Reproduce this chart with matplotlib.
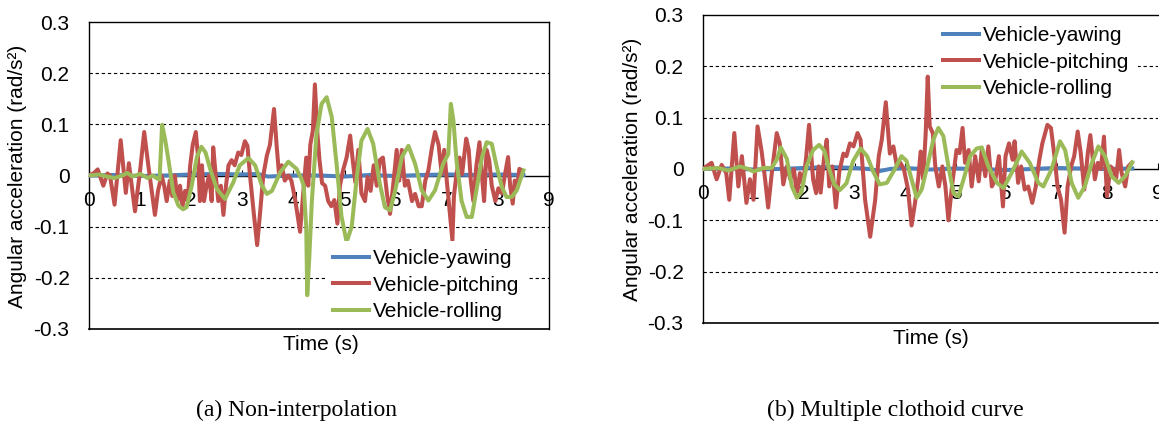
import matplotlib
matplotlib.use("Agg")
import matplotlib.pyplot as plt
from matplotlib.lines import Line2D

plt.rcParams['font.family'] = ['Liberation Sans', 'DejaVu Sans']
plt.rcParams['axes.unicode_minus'] = False

# ---------------- data ----------------
series_names = ["Vehicle-yawing", "Vehicle-pitching", "Vehicle-rolling"]
x_ticks = [0, 1, 2, 3, 4, 5, 6, 7, 8, 9]
y_ticks = [-0.3, -0.2, -0.1, 0, 0.1, 0.2, 0.3]
y_tick_labels = ["-0.3", "-0.2", "-0.1", "0", "0.1", "0.2", "0.3"]
captions = ["(a) Non-interpolation", "(b) Multiple clothoid curve"]

# (a) Non-interpolation
a_yaw_t = [0, 0.5, 1.0, 1.5, 2.0, 2.5, 3.0, 3.3, 3.5, 4.0, 4.5, 5.0, 5.5, 6.0, 6.5, 7.0, 7.5, 8.0, 8.5]
a_yaw_v = [0, 0.001, -0.001, 0.0, 0.002, 0.003, 0.002, 0.003, -0.002, 0.0, 0.0, -0.002, 0.001, -0.001, 0.001, 0.002, 0.001, 0.002, 0.001]

a_pitch_t = [0, 0.10, 0.17, 0.28, 0.36, 0.41, 0.50, 0.62, 0.72, 0.78,
             0.90, 1.00, 1.08, 1.16, 1.29, 1.35, 1.42, 1.47, 1.52, 1.58,
             1.63, 1.68, 1.73, 1.78, 1.83, 1.88, 1.93, 1.98, 2.03, 2.09,
             2.13, 2.17, 2.21, 2.25, 2.30, 2.35, 2.40, 2.43, 2.48, 2.53,
             2.58, 2.63, 2.68, 2.73, 2.79, 2.85, 2.92, 2.98, 3.05, 3.10,
             3.15, 3.22, 3.29, 3.35, 3.41, 3.48, 3.54, 3.62, 3.67, 3.72,
             3.77, 3.83, 3.90, 3.96, 4.03, 4.13, 4.19, 4.25, 4.29, 4.33,
             4.38, 4.42, 4.47, 4.51, 4.56, 4.62, 4.68, 4.74, 4.80, 4.86,
             4.91, 4.97, 5.04, 5.11, 5.16, 5.21, 5.27, 5.33, 5.40, 5.45,
             5.51, 5.57, 5.63, 5.69, 5.75, 5.83, 5.89, 5.95, 6.02, 6.07,
             6.12, 6.18, 6.24, 6.32, 6.38, 6.45, 6.51, 6.58, 6.64, 6.71,
             6.77, 6.84, 6.90, 6.95, 7.00, 7.06, 7.11, 7.14, 7.19, 7.25,
             7.30, 7.38, 7.43, 7.47, 7.52, 7.58, 7.64, 7.69, 7.73, 7.78,
             7.83, 7.88, 7.95, 8.01, 8.08, 8.14, 8.20, 8.24, 8.29, 8.33,
             8.38, 8.42, 8.47]
a_pitch_v = [0, 0.005, 0.012, -0.02, 0.004, 0.0, -0.057, 0.069, -0.034, 0.024,
             -0.070, 0.01, 0.085, 0.02, -0.077, -0.03, 0.0, -0.02, -0.05, -0.01,
             -0.04, 0.0, -0.05, -0.02, -0.06, -0.03, -0.05, 0.02, 0.06, 0.085,
             0.04, -0.05, 0.02, -0.05, -0.02, 0.0, -0.05, 0.055, 0.0, -0.05,
             -0.02, -0.077, -0.02, 0.02, 0.03, 0.02, 0.045, 0.04, 0.067, 0.058,
             0.0, -0.07, -0.136, -0.07, 0.0, 0.039, 0.06, 0.13, 0.06, 0.0,
             0.02, -0.01, 0.0, -0.01, -0.045, -0.11, -0.036, 0.035, -0.02, 0.06,
             0.088, 0.178, 0.08, 0.03, -0.015, -0.02, -0.05, -0.06, -0.048, -0.094,
             -0.02, 0.01, 0.035, 0.078, 0.03, -0.013, 0.05, -0.035, -0.05, -0.003,
             -0.03, 0.02, -0.02, 0.03, 0.035, -0.036, -0.075, -0.02, 0.05, -0.01,
             0.05, -0.02, -0.01, -0.05, -0.036, -0.06, -0.06, -0.01, 0.01, 0.055,
             0.085, 0.06, 0.003, 0.05, -0.01, -0.075, -0.127, -0.04, 0.003, 0.035,
             0.003, 0.072, 0.05, -0.01, -0.05, 0.02, 0.065, -0.003, -0.05, 0.05,
             0.03, -0.02, -0.05, -0.025, -0.035, 0.003, 0.036, -0.02, -0.055, -0.01,
             -0.022, 0.013, 0.01]

a_roll_t = [0, 0.2, 0.35, 0.5, 0.65, 0.75, 0.85, 1.0, 1.15, 1.25,
            1.32, 1.38, 1.43, 1.49, 1.55, 1.65, 1.75, 1.84, 1.91, 2.01,
            2.11, 2.20, 2.28, 2.37, 2.50, 2.66, 2.82, 2.95, 3.12, 3.25,
            3.38, 3.48, 3.58, 3.74, 3.90, 4.06, 4.15, 4.20, 4.25, 4.27,
            4.31, 4.36, 4.45, 4.55, 4.65, 4.75, 4.85, 4.94, 5.04, 5.14,
            5.24, 5.33, 5.45, 5.56, 5.69, 5.79, 5.89, 5.99, 6.12, 6.25,
            6.38, 6.51, 6.64, 6.77, 6.93, 7.03, 7.08, 7.13, 7.19, 7.29,
            7.39, 7.49, 7.59, 7.69, 7.78, 7.88, 7.98, 8.08, 8.17, 8.27,
            8.37, 8.50]
a_roll_v = [0, 0.002, -0.002, -0.005, 0.0, 0.005, -0.002, 0.003, -0.005, 0.0,
            -0.005, -0.008, 0.099, 0.07, 0.033, -0.033, -0.059, -0.066, -0.062, -0.02,
            0.036, 0.056, 0.045, 0.013, -0.026, -0.046, -0.014, 0.02, 0.034, 0.02,
            -0.019, -0.036, -0.03, 0.006, 0.027, 0.013, -0.005, -0.02, -0.1, -0.234,
            -0.16, -0.05, 0.08, 0.14, 0.153, 0.114, 0.016, -0.08, -0.13, -0.10,
            -0.003, 0.068, 0.091, 0.062, -0.016, -0.062, -0.068, -0.03, 0.036, 0.058,
            0.023, -0.029, -0.049, -0.029, 0.023, 0.042, 0.14, 0.107, 0.029, -0.05,
            -0.081, -0.081, -0.023, 0.036, 0.065, 0.062, 0.016, -0.023, -0.042, -0.042,
            -0.029, 0.01]

# (b) Multiple clothoid curve
b_yaw_t = [0, 0.5, 1.0, 1.5, 2.0, 2.5, 3.0, 3.3, 3.5, 3.7, 4.0, 4.5, 5.0, 5.5, 6.0, 6.5, 7.0, 7.5, 8.0, 8.5]
b_yaw_v = [0, 0.001, -0.001, 0.0, 0.002, 0.004, 0.002, 0.0, -0.004, 0.0, 0.002, -0.001, 0.001, 0.0, -0.002, 0.0, 0.002, 0.001, 0.0, 0.001]

b_pitch_t = [0, 0.08, 0.17, 0.27, 0.37, 0.46, 0.52, 0.62, 0.70, 0.77,
             0.86, 0.93, 1.00, 1.08, 1.16, 1.23, 1.29, 1.36, 1.46, 1.52,
             1.59, 1.66, 1.73, 1.80, 1.86, 1.92, 1.98, 2.04, 2.10, 2.18,
             2.24, 2.29, 2.33, 2.40, 2.45, 2.50, 2.56, 2.63, 2.70, 2.78,
             2.84, 2.91, 2.98, 3.06, 3.12, 3.21, 3.31, 3.41, 3.48, 3.54,
             3.62, 3.70, 3.77, 3.84, 3.91, 3.98, 4.06, 4.13, 4.20, 4.26,
             4.31, 4.36, 4.41, 4.45, 4.49, 4.55, 4.60, 4.67, 4.74, 4.80,
             4.86, 4.93, 5.02, 5.08, 5.14, 5.19, 5.26, 5.32, 5.39, 5.46,
             5.52, 5.59, 5.65, 5.72, 5.79, 5.86, 5.94, 5.99, 6.06, 6.13,
             6.17, 6.24, 6.30, 6.37, 6.44, 6.52, 6.59, 6.66, 6.72, 6.82,
             6.89, 6.96, 7.02, 7.09, 7.16, 7.22, 7.29, 7.35, 7.42, 7.48,
             7.55, 7.62, 7.67, 7.72, 7.76, 7.82, 7.88, 7.94, 8.00, 8.07,
             8.13, 8.18, 8.24, 8.29, 8.36, 8.42, 8.49]
b_pitch_v = [0, 0.006, 0.012, -0.02, 0.008, -0.008, -0.06, 0.07, -0.034, 0.025,
             -0.066, -0.02, -0.06, 0.083, 0.035, -0.02, -0.075, -0.01, 0.07, 0.05,
             -0.03, 0.005, -0.02, 0.0, -0.05, -0.008, -0.03, 0.02, 0.086, -0.02,
             -0.047, 0.005, -0.046, 0.025, 0.057, -0.034, 0.005, -0.075, -0.005, 0.03,
             0.025, 0.05, 0.044, 0.07, 0.057, -0.06, -0.132, -0.06, 0.025, 0.057,
             0.13, 0.03, 0.044, 0.005, 0.012, -0.001, -0.04, -0.11, -0.065, -0.02,
             0.034, -0.02, 0.07, 0.18, 0.083, 0.07, 0.005, -0.034, 0.005, -0.034,
             -0.1, -0.034, 0.037, 0.031, 0.08, 0.012, 0.037, -0.034, 0.025, -0.024,
             0.037, -0.014, 0.044, -0.034, -0.02, 0.025, -0.073, 0.025, 0.05, 0.018,
             0.054, -0.027, 0.005, -0.04, -0.034, -0.066, -0.034, 0.018, 0.05, 0.086,
             0.08, 0.025, -0.034, -0.06, -0.124, -0.034, 0.005, 0.025, 0.073, 0.031,
             -0.04, 0.031, 0.066, 0.018, -0.02, 0.012, 0.0, 0.063, -0.053, 0.005,
             -0.001, -0.02, 0.037, -0.008, -0.034, 0.005, 0.012]

b_roll_t = [0, 0.3, 0.5, 0.73, 0.9, 1.0, 1.2, 1.36, 1.46, 1.54,
            1.66, 1.76, 1.86, 1.95, 2.05, 2.18, 2.30, 2.40, 2.50, 2.60,
            2.71, 2.84, 2.97, 3.12, 3.25, 3.37, 3.50, 3.64, 3.80, 3.93,
            4.03, 4.13, 4.23, 4.33, 4.43, 4.56, 4.66, 4.76, 4.86, 4.96,
            5.06, 5.16, 5.29, 5.42, 5.52, 5.65, 5.82, 5.95, 6.11, 6.31,
            6.47, 6.64, 6.74, 6.90, 7.07, 7.17, 7.30, 7.43, 7.56, 7.70,
            7.83, 7.96, 8.09, 8.23, 8.36, 8.50]
b_roll_v = [0, 0.002, -0.003, 0.005, 0.0, -0.005, 0.002, 0.002, 0.018, 0.042,
            0.02, -0.034, -0.056, -0.045, 0.005, 0.037, 0.047, 0.036, 0.0, -0.03,
            -0.041, -0.028, 0.015, 0.04, 0.025, -0.005, -0.03, -0.027, 0.0, 0.025,
            0.016, -0.02, -0.056, -0.04, 0.0, 0.057, 0.08, 0.064, 0.005, -0.047,
            -0.053, -0.02, 0.025, 0.04, 0.042, 0.005, -0.027, -0.037, -0.008, 0.034,
            0.012, -0.027, -0.034, -0.001, 0.054, 0.037, -0.027, -0.056, -0.034, 0.012,
            0.044, 0.025, -0.014, -0.027, -0.014, 0.013]

# ---------------- styling ----------------
colors = ["#4F81BD", "#C0504D", "#9BBB59"]
W, H = 1159, 428
LW = 2.9
FS = 15

fig = plt.figure(figsize=(W / 100, H / 100), dpi=100)
fig.patch.set_facecolor("white")

panels = [
    dict(rect=(89, 22, 549, 329), yaw=(a_yaw_t, a_yaw_v), pitch=(a_pitch_t, a_pitch_v),
         roll=(a_roll_t, a_roll_v), leg=(325, 241), ylab=(18, 176), xlab=(321, 345),
         cap=(296, 410), right_spine=True),
    dict(rect=(703, 15, 1157.5, 323), yaw=(b_yaw_t, b_yaw_v), pitch=(b_pitch_t, b_pitch_v),
         roll=(b_roll_t, b_roll_v), leg=(935, 18), ylab=(633, 169), xlab=(931, 338),
         cap=(895, 410), right_spine=False),
]

for i, p in enumerate(panels):
    x0, y0, x1, y1 = p["rect"]
    ax = fig.add_axes([x0 / W, 1 - y1 / H, (x1 - x0) / W, (y1 - y0) / H])
    ax.set_xlim(0, 9)
    ax.set_ylim(-0.3, 0.3)
    ax.set_facecolor("white")

    for g in [-0.2, -0.1, 0.1, 0.2]:
        ax.axhline(g, color="black", lw=0.8, ls=(0, (3, 2.5)), zorder=1)

    ax.plot(*p["yaw"], color=colors[0], lw=LW, zorder=3, solid_joinstyle="round")
    ax.plot(*p["pitch"], color=colors[1], lw=LW, zorder=4, solid_joinstyle="round")
    ax.plot(*p["roll"], color=colors[2], lw=LW, zorder=5, solid_joinstyle="round")

    ax.spines["bottom"].set_position(("data", 0))
    ax.spines["bottom"].set_zorder(2)
    for s in ["left", "top", "right", "bottom"]:
        ax.spines[s].set_color("black")
        ax.spines[s].set_linewidth(1.0)
    ax.spines["top"].set_zorder(12)
    ax.spines["right"].set_zorder(12)
    ax.spines["right"].set_visible(p["right_spine"])
    ax.plot([0, 9], [-0.3, -0.3], color="black", lw=1.2, clip_on=False, zorder=12)

    ax.set_xticks(x_ticks)
    ax.set_xticklabels([str(v) for v in x_ticks])
    ax.set_yticks(y_ticks)
    ax.set_yticklabels(y_tick_labels)
    ax.tick_params(axis="x", direction="in", length=4, width=0.8, pad=11, labelsize=FS)
    ax.tick_params(axis="y", length=0, pad=14, labelsize=FS)

    handles = [Line2D([], [], color=c, lw=LW) for c in colors]
    lx, ly = p["leg"]
    ax.legend(handles, series_names, loc="upper left",
              bbox_to_anchor=(lx / W, 1 - ly / H), bbox_transform=fig.transFigure,
              frameon=True, fancybox=False, edgecolor="none", facecolor="white",
              framealpha=1, borderpad=0.4, borderaxespad=0, handlelength=1.7,
              handletextpad=0.2, labelspacing=0.35, fontsize=FS).set_zorder(10)

    fig.text(p["ylab"][0] / W, 1 - p["ylab"][1] / H, "Angular acceleration (rad/s\u00b2)",
             rotation=90, ha="center", va="center", fontsize=FS)
    fig.text(p["xlab"][0] / W, 1 - p["xlab"][1] / H, "Time (s)",
             ha="center", va="center", fontsize=FS)
    fig.text(p["cap"][0] / W, 1 - p["cap"][1] / H, captions[i],
             ha="center", va="center", fontsize=17, family=["Liberation Serif", "DejaVu Serif"])

fig.savefig("out.png", dpi=100, facecolor="white")
